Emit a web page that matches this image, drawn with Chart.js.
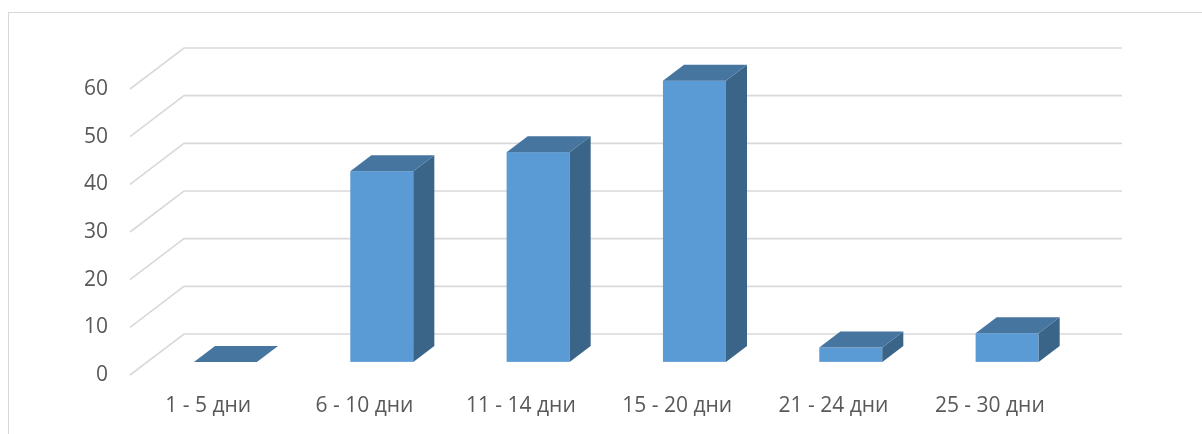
<!DOCTYPE html>
<html>
<head>
<meta charset="utf-8">
<script src="https://cdn.jsdelivr.net/npm/chart.js@4.4.1/dist/chart.umd.min.js"></script>
<style>
  html, body { margin: 0; padding: 0; background: #fff; }
</style>
</head>
<body>
<canvas id="daysChart" width="1202" height="434"></canvas>
<script>
const categories = ["1 - 5 дни", "6 - 10 дни", "11 - 14 дни", "15 - 20 дни", "21 - 24 дни", "25 - 30 дни"];
const counts = [0, 40, 44, 59, 3, 6];
const yMax = 60;
const yStep = 10;

// oblique offset from the front edge of the floor to the back wall
const DEPTH_X = 54, DEPTH_Y = -41;
// where the boxes sit inside that depth (0 = front, 1 = back wall)
const BAR_FRONT = 0.32, BAR_BACK = 0.71;

const FACE = "#5b9bd5", TOP = "#4675a0", SIDE = "#3a6589";
const GRID = "#d9d9d9";

const box3d = {
  id: "box3d",
  beforeDraw(chart) {
    const ctx = chart.ctx;
    ctx.save();
    ctx.strokeStyle = GRID;
    ctx.lineWidth = 1;
    ctx.strokeRect(8.5, 12.5, 1400, 600);
    ctx.restore();
  },
  beforeDatasetsDraw(chart) {
    const { ctx, chartArea, scales } = chart;
    const y = scales.y;
    ctx.save();
    ctx.strokeStyle = GRID;
    ctx.lineWidth = 1.6;
    for (let v = 0; v <= yMax; v += yStep) {
      const py = y.getPixelForValue(v);
      ctx.beginPath();
      ctx.moveTo(chartArea.left, py);
      ctx.lineTo(chartArea.left + DEPTH_X, py + DEPTH_Y);
      ctx.lineTo(chartArea.right + DEPTH_X, py + DEPTH_Y);
      ctx.stroke();
    }
    ctx.restore();
  },
  afterDatasetsDraw(chart) {
    const ctx = chart.ctx;
    const meta = chart.getDatasetMeta(0);
    const fx = DEPTH_X * BAR_FRONT, fy = DEPTH_Y * BAR_FRONT;
    const dx = DEPTH_X * (BAR_BACK - BAR_FRONT), dy = DEPTH_Y * (BAR_BACK - BAR_FRONT);
    ctx.save();
    meta.data.forEach(bar => {
      const { x, y, base, width } = bar.getProps(["x", "y", "base", "width"], true);
      const l = x - width / 2 + fx, r = x + width / 2 + fx;
      const t = y + fy, b = base + fy;
      // front
      if (b - t > 0.5) {
        ctx.fillStyle = FACE;
        ctx.fillRect(l, t, r - l, b - t);
        // right side
        ctx.fillStyle = SIDE;
        ctx.beginPath();
        ctx.moveTo(r, t);
        ctx.lineTo(r + dx, t + dy);
        ctx.lineTo(r + dx, b + dy);
        ctx.lineTo(r, b);
        ctx.closePath();
        ctx.fill();
      }
      // top
      ctx.fillStyle = TOP;
      ctx.beginPath();
      ctx.moveTo(l, t);
      ctx.lineTo(l + dx, t + dy);
      ctx.lineTo(r + dx, t + dy);
      ctx.lineTo(r, t);
      ctx.closePath();
      ctx.fill();
    });
    ctx.restore();
  }
};

Chart.defaults.font.family = "'Open Sans', sans-serif";
Chart.defaults.font.size = 21;
Chart.defaults.color = "#595959";

new Chart(document.getElementById("daysChart"), {
  type: "bar",
  data: {
    labels: categories,
    datasets: [{
      data: counts,
      backgroundColor: "rgba(0,0,0,0)",
      borderWidth: 0,
      categoryPercentage: 1,
      barPercentage: 0.403
    }]
  },
  options: {
    responsive: false,
    animation: false,
    devicePixelRatio: 1,
    layout: { padding: { top: 89, right: 134, left: 0, bottom: 0 } },
    plugins: { legend: { display: false }, tooltip: { enabled: false } },
    scales: {
      x: {
        grid: { display: false, drawTicks: false },
        border: { display: false },
        ticks: { maxRotation: 0, padding: 18 },
        afterFit(scale) { scale.height = 59; }
      },
      y: {
        min: 0,
        max: yMax,
        grid: { display: false, drawTicks: false },
        border: { display: false },
        ticks: { stepSize: yStep, padding: 22 },
        afterFit(scale) { scale.width = 130; }
      }
    }
  },
  plugins: [box3d]
});
</script>
</body>
</html>
